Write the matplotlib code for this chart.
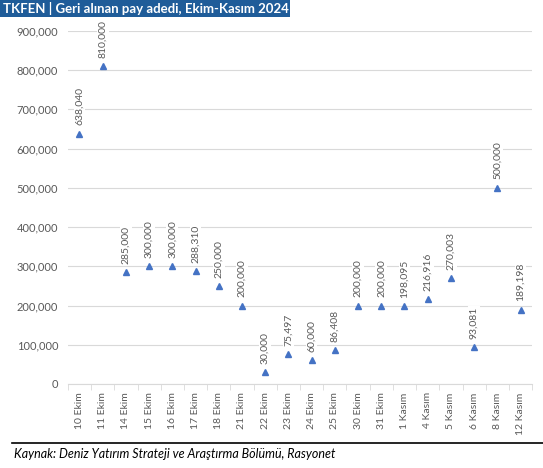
import numpy as np
import matplotlib.pyplot as plt
from matplotlib.ticker import FuncFormatter, FixedLocator

plt.rcParams['font.family'] = ['Lato', 'DejaVu Sans']

dates = ['10 Ekim', '11 Ekim', '14 Ekim', '15 Ekim', '16 Ekim', '17 Ekim', '18 Ekim',
         '21 Ekim', '22 Ekim', '23 Ekim', '24 Ekim', '25 Ekim', '30 Ekim', '31 Ekim',
         '1 Kasım', '4 Kasım', '5 Kasım', '6 Kasım', '8 Kasım', '12 Kasım']
shares = [638040, 810000, 285000, 300000, 300000, 288310, 250000,
          200000, 30000, 75497, 60000, 86408, 200000, 200000,
          198095, 216916, 270003, 93081, 500000, 189198]

title = 'TKFEN | Geri alınan pay adedi, Ekim-Kasım 2024'
source = 'Kaynak: Deniz Yatırım Strateji ve Araştırma Bölümü, Rasyonet'

grey = '#595959'
blue = '#4472C4'

fig = plt.figure(figsize=(5.43, 4.68), dpi=100)
ax = fig.add_axes([0.125, 0.1795, 0.855, 0.7545])

x = np.arange(len(dates))
ax.plot(x, shares, linestyle='none', marker='^', markersize=4, color=blue, zorder=3)

for xi, v in zip(x, shares):
    ax.annotate(f'{v:,}', (xi, v), xytext=(0, 6), textcoords='offset points',
                rotation=90, ha='center', va='bottom', fontsize=7.5, color=grey,
                bbox=dict(facecolor='white', edgecolor='none', pad=1.0), zorder=4)

ax.set_xlim(-0.5, len(dates) - 0.5)
ax.set_ylim(0, 900000)
ax.set_yticks(np.arange(0, 900001, 100000))
ax.yaxis.set_major_formatter(FuncFormatter(lambda v, p: f'{int(v):,}'))
ax.grid(axis='y', color='#d9d9d9', linewidth=0.8, zorder=0)
ax.set_axisbelow(True)

ax.set_xticks(x)
ax.set_xticklabels(dates, rotation=90, fontsize=7.5, color=grey)
ax.tick_params(axis='x', length=0, pad=6)
ax.xaxis.set_minor_locator(FixedLocator(np.arange(-0.5, len(dates), 1)))
ax.tick_params(axis='x', which='minor', length=4, color='#d9d9d9')
ax.tick_params(axis='y', length=0, labelsize=8, labelcolor=grey, pad=7)

for s in ['top', 'right', 'left']:
    ax.spines[s].set_visible(False)
ax.spines['bottom'].set_color('#d9d9d9')

# title bar
fig.patches.append(plt.Rectangle((0, 1 - 17 / 468), 290 / 543, 17 / 468,
                                 transform=fig.transFigure, facecolor='#1F5C99',
                                 edgecolor='none'))
fig.text(3 / 543, 1 - 8.5 / 468, title, color='white', fontsize=9.5,
         fontweight='bold', va='center', ha='left')

# bottom rule and source
fig.add_artist(plt.Line2D([12 / 543, 1], [1 - 443 / 468] * 2,
                          transform=fig.transFigure, color='black', linewidth=1.2))
fig.text(14 / 543, 1 - 454 / 468, source, fontsize=9, style='italic',
         va='center', ha='left', color='black')

fig.savefig('out.png', dpi=100)
